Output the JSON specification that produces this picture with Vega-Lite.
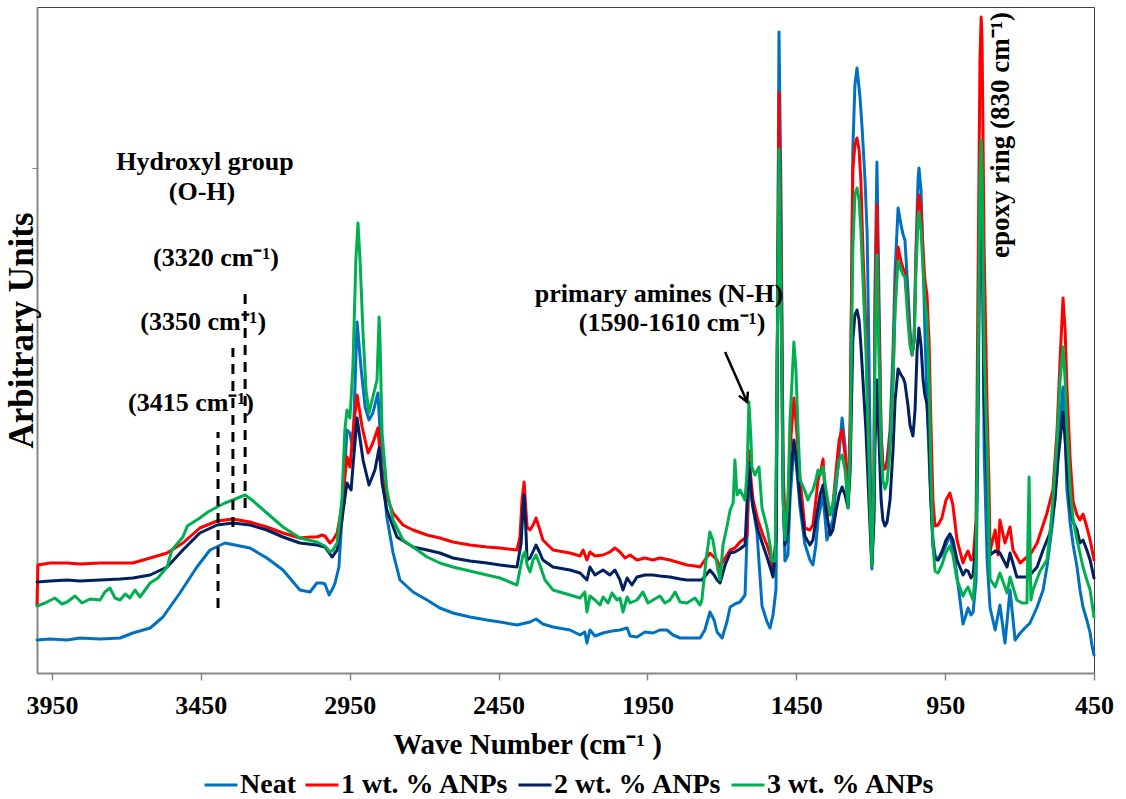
{
"$schema": "https://vega.github.io/schema/vega-lite/v6.json",
"width": 1057, "height": 666,
"autosize": {"type": "none"},
"padding": {"left": 37, "top": 7, "right": 32, "bottom": 126},
"background": "white",
"config": {"view": {"stroke": "#404040", "strokeWidth": 1}},
"datasets": {
"neat": [{"x":4000,"y":33},{"x":3956,"y":34},{"x":3899,"y":33},{"x":3856,"y":35},{"x":3788,"y":34},{"x":3721,"y":35},{"x":3678,"y":40},{"x":3620,"y":45},{"x":3577,"y":56},{"x":3520,"y":80},{"x":3463,"y":106},{"x":3419,"y":123},{"x":3369,"y":130},{"x":3335,"y":128},{"x":3285,"y":125},{"x":3228,"y":115},{"x":3174,"y":103},{"x":3117,"y":83},{"x":3083,"y":81},{"x":3060,"y":90},{"x":3043,"y":90},{"x":3033,"y":89},{"x":3019,"y":78},{"x":3006,"y":85},{"x":2999,"y":90},{"x":2986,"y":106},{"x":2972,"y":173},{"x":2959,"y":243},{"x":2949,"y":240},{"x":2939,"y":223},{"x":2925,"y":351},{"x":2912,"y":306},{"x":2898,"y":266},{"x":2885,"y":253},{"x":2872,"y":260},{"x":2855,"y":280},{"x":2841,"y":206},{"x":2825,"y":156},{"x":2804,"y":120},{"x":2781,"y":93},{"x":2737,"y":81},{"x":2690,"y":73},{"x":2647,"y":65},{"x":2603,"y":60},{"x":2546,"y":56},{"x":2489,"y":53},{"x":2445,"y":51},{"x":2388,"y":48},{"x":2344,"y":51},{"x":2324,"y":54},{"x":2301,"y":49},{"x":2267,"y":46},{"x":2210,"y":43},{"x":2176,"y":38},{"x":2160,"y":41},{"x":2153,"y":30},{"x":2143,"y":43},{"x":2126,"y":37},{"x":2099,"y":40},{"x":2069,"y":42},{"x":2042,"y":43},{"x":2018,"y":45},{"x":2008,"y":37},{"x":1985,"y":36},{"x":1958,"y":41},{"x":1931,"y":40},{"x":1908,"y":43},{"x":1884,"y":43},{"x":1864,"y":38},{"x":1840,"y":35},{"x":1807,"y":35},{"x":1773,"y":35},{"x":1757,"y":43},{"x":1740,"y":61},{"x":1726,"y":53},{"x":1716,"y":41},{"x":1699,"y":35},{"x":1683,"y":51},{"x":1672,"y":66},{"x":1656,"y":69},{"x":1639,"y":71},{"x":1622,"y":78},{"x":1609,"y":194},{"x":1599,"y":173},{"x":1582,"y":141},{"x":1565,"y":67},{"x":1548,"y":51},{"x":1538,"y":45},{"x":1528,"y":58},{"x":1518,"y":84},{"x":1515,"y":223},{"x":1508,"y":641},{"x":1501,"y":473},{"x":1494,"y":193},{"x":1488,"y":112},{"x":1478,"y":118},{"x":1471,"y":173},{"x":1458,"y":226},{"x":1451,"y":213},{"x":1437,"y":165},{"x":1421,"y":129},{"x":1404,"y":113},{"x":1394,"y":108},{"x":1384,"y":128},{"x":1377,"y":153},{"x":1360,"y":178},{"x":1347,"y":133},{"x":1327,"y":153},{"x":1310,"y":206},{"x":1296,"y":255},{"x":1286,"y":226},{"x":1276,"y":173},{"x":1269,"y":223},{"x":1260,"y":523},{"x":1253,"y":588},{"x":1246,"y":605},{"x":1236,"y":576},{"x":1229,"y":546},{"x":1219,"y":493},{"x":1212,"y":440},{"x":1206,"y":323},{"x":1199,"y":153},{"x":1196,"y":104},{"x":1189,"y":173},{"x":1186,"y":373},{"x":1179,"y":511},{"x":1172,"y":373},{"x":1165,"y":243},{"x":1159,"y":203},{"x":1152,"y":205},{"x":1145,"y":213},{"x":1135,"y":243},{"x":1125,"y":323},{"x":1118,"y":403},{"x":1108,"y":465},{"x":1098,"y":448},{"x":1091,"y":438},{"x":1085,"y":433},{"x":1075,"y":383},{"x":1068,"y":343},{"x":1061,"y":320},{"x":1054,"y":333},{"x":1048,"y":423},{"x":1041,"y":493},{"x":1038,"y":505},{"x":1031,"y":483},{"x":1024,"y":413},{"x":1018,"y":343},{"x":1011,"y":273},{"x":1001,"y":193},{"x":991,"y":133},{"x":984,"y":118},{"x":974,"y":113},{"x":961,"y":118},{"x":947,"y":128},{"x":934,"y":139},{"x":917,"y":113},{"x":900,"y":73},{"x":890,"y":49},{"x":880,"y":58},{"x":873,"y":65},{"x":863,"y":58},{"x":856,"y":61},{"x":846,"y":93},{"x":840,"y":223},{"x":833,"y":473},{"x":829,"y":523},{"x":826,"y":473},{"x":819,"y":223},{"x":809,"y":113},{"x":799,"y":65},{"x":782,"y":43},{"x":766,"y":68},{"x":749,"y":30},{"x":732,"y":83},{"x":715,"y":33},{"x":698,"y":40},{"x":682,"y":45},{"x":665,"y":50},{"x":641,"y":66},{"x":621,"y":83},{"x":608,"y":106},{"x":588,"y":153},{"x":574,"y":203},{"x":564,"y":253},{"x":554,"y":286},{"x":547,"y":243},{"x":541,"y":184},{"x":530,"y":150},{"x":520,"y":128},{"x":507,"y":106},{"x":497,"y":83},{"x":487,"y":66},{"x":474,"y":53},{"x":463,"y":40},{"x":457,"y":28},{"x":450,"y":18}],
"wt1": [{"x":4000,"y":68},{"x":3997,"y":108},{"x":3956,"y":110},{"x":3899,"y":110},{"x":3856,"y":109},{"x":3788,"y":110},{"x":3721,"y":110},{"x":3678,"y":110},{"x":3620,"y":115},{"x":3563,"y":120},{"x":3510,"y":130},{"x":3453,"y":145},{"x":3395,"y":152},{"x":3342,"y":154},{"x":3285,"y":151},{"x":3228,"y":146},{"x":3174,"y":140},{"x":3117,"y":135},{"x":3083,"y":136},{"x":3060,"y":136},{"x":3043,"y":138},{"x":3033,"y":137},{"x":3016,"y":130},{"x":3006,"y":133},{"x":2992,"y":140},{"x":2976,"y":166},{"x":2959,"y":216},{"x":2949,"y":206},{"x":2939,"y":240},{"x":2925,"y":278},{"x":2908,"y":246},{"x":2888,"y":220},{"x":2872,"y":230},{"x":2855,"y":245},{"x":2841,"y":196},{"x":2825,"y":176},{"x":2804,"y":160},{"x":2771,"y":148},{"x":2737,"y":143},{"x":2690,"y":138},{"x":2647,"y":135},{"x":2603,"y":131},{"x":2546,"y":128},{"x":2489,"y":126},{"x":2445,"y":125},{"x":2388,"y":123},{"x":2378,"y":136},{"x":2371,"y":173},{"x":2364,"y":191},{"x":2358,"y":163},{"x":2354,"y":146},{"x":2344,"y":143},{"x":2334,"y":148},{"x":2324,"y":155},{"x":2311,"y":143},{"x":2301,"y":133},{"x":2267,"y":123},{"x":2210,"y":120},{"x":2176,"y":117},{"x":2166,"y":123},{"x":2153,"y":113},{"x":2143,"y":121},{"x":2126,"y":117},{"x":2099,"y":118},{"x":2076,"y":121},{"x":2059,"y":125},{"x":2042,"y":121},{"x":2025,"y":115},{"x":2008,"y":118},{"x":1985,"y":113},{"x":1958,"y":115},{"x":1931,"y":113},{"x":1908,"y":115},{"x":1874,"y":113},{"x":1840,"y":110},{"x":1817,"y":108},{"x":1790,"y":107},{"x":1773,"y":106},{"x":1757,"y":113},{"x":1740,"y":120},{"x":1730,"y":117},{"x":1716,"y":113},{"x":1706,"y":106},{"x":1689,"y":115},{"x":1672,"y":123},{"x":1656,"y":125},{"x":1639,"y":131},{"x":1622,"y":135},{"x":1615,"y":137},{"x":1609,"y":222},{"x":1602,"y":193},{"x":1595,"y":173},{"x":1579,"y":153},{"x":1562,"y":138},{"x":1548,"y":128},{"x":1538,"y":118},{"x":1528,"y":104},{"x":1518,"y":133},{"x":1515,"y":273},{"x":1508,"y":580},{"x":1501,"y":423},{"x":1494,"y":203},{"x":1488,"y":153},{"x":1478,"y":168},{"x":1471,"y":223},{"x":1458,"y":275},{"x":1451,"y":253},{"x":1437,"y":193},{"x":1421,"y":145},{"x":1404,"y":143},{"x":1394,"y":148},{"x":1384,"y":173},{"x":1377,"y":193},{"x":1367,"y":203},{"x":1360,"y":214},{"x":1354,"y":183},{"x":1343,"y":158},{"x":1327,"y":168},{"x":1316,"y":203},{"x":1306,"y":233},{"x":1296,"y":243},{"x":1286,"y":218},{"x":1276,"y":177},{"x":1269,"y":253},{"x":1260,"y":503},{"x":1253,"y":528},{"x":1246,"y":535},{"x":1239,"y":523},{"x":1233,"y":493},{"x":1226,"y":423},{"x":1216,"y":343},{"x":1206,"y":223},{"x":1199,"y":133},{"x":1196,"y":113},{"x":1189,"y":193},{"x":1186,"y":343},{"x":1179,"y":468},{"x":1172,"y":343},{"x":1165,"y":233},{"x":1159,"y":208},{"x":1152,"y":204},{"x":1145,"y":208},{"x":1135,"y":233},{"x":1125,"y":293},{"x":1118,"y":373},{"x":1108,"y":426},{"x":1098,"y":411},{"x":1091,"y":405},{"x":1085,"y":401},{"x":1075,"y":363},{"x":1068,"y":333},{"x":1061,"y":318},{"x":1054,"y":333},{"x":1048,"y":413},{"x":1041,"y":468},{"x":1038,"y":478},{"x":1031,"y":463},{"x":1024,"y":423},{"x":1018,"y":393},{"x":1011,"y":378},{"x":1004,"y":333},{"x":998,"y":253},{"x":991,"y":173},{"x":984,"y":147},{"x":974,"y":148},{"x":961,"y":155},{"x":947,"y":173},{"x":934,"y":180},{"x":924,"y":168},{"x":910,"y":133},{"x":890,"y":110},{"x":880,"y":118},{"x":873,"y":122},{"x":863,"y":113},{"x":856,"y":114},{"x":846,"y":153},{"x":840,"y":373},{"x":833,"y":613},{"x":829,"y":656},{"x":826,"y":633},{"x":819,"y":423},{"x":809,"y":265},{"x":803,"y":193},{"x":799,"y":122},{"x":782,"y":143},{"x":772,"y":118},{"x":766,"y":153},{"x":749,"y":130},{"x":732,"y":146},{"x":722,"y":123},{"x":698,"y":110},{"x":675,"y":116},{"x":665,"y":118},{"x":641,"y":130},{"x":621,"y":148},{"x":608,"y":160},{"x":588,"y":183},{"x":574,"y":243},{"x":564,"y":313},{"x":554,"y":375},{"x":547,"y":343},{"x":541,"y":286},{"x":530,"y":213},{"x":520,"y":171},{"x":507,"y":158},{"x":497,"y":153},{"x":487,"y":159},{"x":474,"y":146},{"x":463,"y":133},{"x":450,"y":113}],
"wt2": [{"x":4000,"y":91},{"x":3956,"y":92},{"x":3899,"y":93},{"x":3856,"y":92},{"x":3788,"y":93},{"x":3721,"y":94},{"x":3678,"y":95},{"x":3620,"y":98},{"x":3563,"y":106},{"x":3510,"y":123},{"x":3453,"y":140},{"x":3395,"y":148},{"x":3342,"y":150},{"x":3285,"y":148},{"x":3228,"y":143},{"x":3174,"y":136},{"x":3117,"y":130},{"x":3060,"y":128},{"x":3033,"y":126},{"x":3009,"y":116},{"x":2992,"y":123},{"x":2976,"y":153},{"x":2959,"y":190},{"x":2945,"y":183},{"x":2939,"y":206},{"x":2925,"y":255},{"x":2905,"y":213},{"x":2885,"y":188},{"x":2865,"y":203},{"x":2851,"y":225},{"x":2841,"y":190},{"x":2825,"y":163},{"x":2791,"y":136},{"x":2737,"y":126},{"x":2690,"y":123},{"x":2647,"y":120},{"x":2603,"y":115},{"x":2546,"y":112},{"x":2489,"y":110},{"x":2445,"y":108},{"x":2388,"y":106},{"x":2374,"y":130},{"x":2368,"y":163},{"x":2364,"y":178},{"x":2358,"y":143},{"x":2354,"y":113},{"x":2344,"y":115},{"x":2324,"y":128},{"x":2311,"y":120},{"x":2301,"y":113},{"x":2267,"y":106},{"x":2210,"y":103},{"x":2176,"y":100},{"x":2153,"y":93},{"x":2143,"y":106},{"x":2126,"y":98},{"x":2099,"y":103},{"x":2076,"y":98},{"x":2059,"y":103},{"x":2042,"y":93},{"x":2032,"y":83},{"x":2018,"y":95},{"x":2002,"y":88},{"x":1985,"y":96},{"x":1958,"y":98},{"x":1931,"y":98},{"x":1908,"y":97},{"x":1874,"y":96},{"x":1840,"y":94},{"x":1817,"y":93},{"x":1790,"y":93},{"x":1767,"y":93},{"x":1753,"y":98},{"x":1740,"y":103},{"x":1726,"y":98},{"x":1716,"y":93},{"x":1706,"y":90},{"x":1689,"y":108},{"x":1672,"y":120},{"x":1656,"y":121},{"x":1639,"y":124},{"x":1622,"y":128},{"x":1609,"y":210},{"x":1602,"y":183},{"x":1595,"y":165},{"x":1579,"y":143},{"x":1562,"y":128},{"x":1545,"y":113},{"x":1528,"y":96},{"x":1518,"y":133},{"x":1515,"y":273},{"x":1508,"y":513},{"x":1501,"y":373},{"x":1494,"y":173},{"x":1488,"y":128},{"x":1478,"y":143},{"x":1471,"y":193},{"x":1458,"y":233},{"x":1451,"y":218},{"x":1437,"y":173},{"x":1421,"y":137},{"x":1404,"y":128},{"x":1394,"y":133},{"x":1384,"y":153},{"x":1370,"y":178},{"x":1360,"y":188},{"x":1350,"y":163},{"x":1336,"y":138},{"x":1327,"y":143},{"x":1316,"y":163},{"x":1306,"y":178},{"x":1296,"y":186},{"x":1286,"y":178},{"x":1276,"y":165},{"x":1269,"y":203},{"x":1260,"y":333},{"x":1253,"y":358},{"x":1246,"y":363},{"x":1239,"y":353},{"x":1233,"y":328},{"x":1226,"y":293},{"x":1216,"y":243},{"x":1206,"y":173},{"x":1199,"y":123},{"x":1196,"y":108},{"x":1189,"y":153},{"x":1186,"y":223},{"x":1179,"y":293},{"x":1172,"y":233},{"x":1165,"y":173},{"x":1159,"y":153},{"x":1152,"y":147},{"x":1145,"y":151},{"x":1135,"y":173},{"x":1125,"y":223},{"x":1118,"y":273},{"x":1108,"y":304},{"x":1098,"y":298},{"x":1091,"y":295},{"x":1085,"y":290},{"x":1075,"y":268},{"x":1068,"y":248},{"x":1058,"y":237},{"x":1051,"y":263},{"x":1044,"y":323},{"x":1038,"y":345},{"x":1031,"y":328},{"x":1024,"y":293},{"x":1018,"y":278},{"x":1011,"y":269},{"x":1004,"y":233},{"x":998,"y":173},{"x":991,"y":128},{"x":984,"y":114},{"x":974,"y":113},{"x":961,"y":121},{"x":947,"y":133},{"x":934,"y":139},{"x":924,"y":133},{"x":910,"y":113},{"x":890,"y":98},{"x":880,"y":103},{"x":873,"y":102},{"x":863,"y":95},{"x":856,"y":98},{"x":846,"y":133},{"x":840,"y":273},{"x":833,"y":473},{"x":829,"y":503},{"x":826,"y":473},{"x":819,"y":273},{"x":809,"y":192},{"x":799,"y":118},{"x":782,"y":122},{"x":766,"y":120},{"x":742,"y":106},{"x":732,"y":120},{"x":709,"y":96},{"x":675,"y":96},{"x":665,"y":98},{"x":641,"y":106},{"x":621,"y":123},{"x":598,"y":140},{"x":581,"y":173},{"x":571,"y":213},{"x":564,"y":233},{"x":554,"y":261},{"x":547,"y":233},{"x":541,"y":204},{"x":530,"y":168},{"x":520,"y":151},{"x":507,"y":143},{"x":497,"y":130},{"x":487,"y":133},{"x":474,"y":123},{"x":463,"y":113},{"x":450,"y":95}],
"wt3": [{"x":4000,"y":67},{"x":3973,"y":70},{"x":3940,"y":75},{"x":3916,"y":69},{"x":3899,"y":71},{"x":3872,"y":77},{"x":3849,"y":70},{"x":3822,"y":74},{"x":3788,"y":73},{"x":3772,"y":81},{"x":3755,"y":85},{"x":3738,"y":75},{"x":3721,"y":73},{"x":3704,"y":79},{"x":3688,"y":75},{"x":3671,"y":83},{"x":3654,"y":76},{"x":3637,"y":83},{"x":3620,"y":90},{"x":3594,"y":95},{"x":3563,"y":106},{"x":3547,"y":123},{"x":3510,"y":136},{"x":3495,"y":147},{"x":3453,"y":155},{"x":3426,"y":161},{"x":3395,"y":166},{"x":3369,"y":170},{"x":3342,"y":173},{"x":3318,"y":176},{"x":3301,"y":178},{"x":3278,"y":173},{"x":3251,"y":166},{"x":3228,"y":160},{"x":3174,"y":146},{"x":3117,"y":135},{"x":3060,"y":131},{"x":3033,"y":127},{"x":3016,"y":121},{"x":3006,"y":123},{"x":2992,"y":130},{"x":2976,"y":173},{"x":2966,"y":243},{"x":2959,"y":263},{"x":2949,"y":255},{"x":2939,"y":306},{"x":2929,"y":413},{"x":2922,"y":450},{"x":2915,"y":413},{"x":2905,"y":340},{"x":2895,"y":283},{"x":2885,"y":260},{"x":2872,"y":276},{"x":2858,"y":293},{"x":2851,"y":356},{"x":2848,"y":333},{"x":2841,"y":240},{"x":2825,"y":183},{"x":2804,"y":153},{"x":2771,"y":133},{"x":2737,"y":126},{"x":2690,"y":116},{"x":2647,"y":110},{"x":2603,"y":106},{"x":2546,"y":102},{"x":2489,"y":98},{"x":2445,"y":95},{"x":2388,"y":88},{"x":2378,"y":103},{"x":2368,"y":118},{"x":2361,"y":121},{"x":2354,"y":108},{"x":2344,"y":101},{"x":2334,"y":113},{"x":2324,"y":118},{"x":2311,"y":108},{"x":2294,"y":93},{"x":2267,"y":83},{"x":2210,"y":78},{"x":2176,"y":75},{"x":2160,"y":81},{"x":2153,"y":61},{"x":2143,"y":77},{"x":2126,"y":73},{"x":2109,"y":68},{"x":2099,"y":76},{"x":2082,"y":70},{"x":2069,"y":80},{"x":2052,"y":73},{"x":2042,"y":75},{"x":2032,"y":61},{"x":2018,"y":76},{"x":2008,"y":70},{"x":1985,"y":73},{"x":1965,"y":81},{"x":1948,"y":70},{"x":1931,"y":73},{"x":1908,"y":77},{"x":1891,"y":70},{"x":1874,"y":73},{"x":1857,"y":81},{"x":1840,"y":71},{"x":1817,"y":70},{"x":1790,"y":75},{"x":1773,"y":68},{"x":1767,"y":73},{"x":1753,"y":113},{"x":1740,"y":141},{"x":1730,"y":133},{"x":1723,"y":120},{"x":1713,"y":103},{"x":1706,"y":93},{"x":1696,"y":128},{"x":1683,"y":146},{"x":1672,"y":163},{"x":1662,"y":170},{"x":1656,"y":213},{"x":1649,"y":178},{"x":1639,"y":183},{"x":1622,"y":173},{"x":1615,"y":203},{"x":1609,"y":271},{"x":1602,"y":233},{"x":1599,"y":206},{"x":1589,"y":198},{"x":1582,"y":202},{"x":1575,"y":206},{"x":1565,"y":165},{"x":1548,"y":145},{"x":1538,"y":128},{"x":1531,"y":112},{"x":1521,"y":112},{"x":1515,"y":273},{"x":1508,"y":524},{"x":1501,"y":373},{"x":1494,"y":173},{"x":1488,"y":133},{"x":1478,"y":173},{"x":1471,"y":253},{"x":1464,"y":293},{"x":1458,"y":331},{"x":1451,"y":303},{"x":1444,"y":243},{"x":1437,"y":193},{"x":1421,"y":182},{"x":1411,"y":173},{"x":1404,"y":178},{"x":1394,"y":183},{"x":1384,"y":193},{"x":1377,"y":203},{"x":1370,"y":198},{"x":1360,"y":206},{"x":1350,"y":183},{"x":1336,"y":158},{"x":1327,"y":168},{"x":1316,"y":193},{"x":1306,"y":213},{"x":1296,"y":218},{"x":1286,"y":203},{"x":1276,"y":165},{"x":1269,"y":223},{"x":1260,"y":423},{"x":1253,"y":478},{"x":1246,"y":485},{"x":1239,"y":473},{"x":1233,"y":443},{"x":1226,"y":393},{"x":1216,"y":323},{"x":1206,"y":213},{"x":1199,"y":133},{"x":1196,"y":108},{"x":1189,"y":193},{"x":1186,"y":313},{"x":1179,"y":418},{"x":1172,"y":313},{"x":1165,"y":223},{"x":1159,"y":193},{"x":1152,"y":184},{"x":1145,"y":191},{"x":1135,"y":223},{"x":1125,"y":293},{"x":1118,"y":363},{"x":1108,"y":412},{"x":1098,"y":403},{"x":1091,"y":398},{"x":1085,"y":396},{"x":1075,"y":353},{"x":1068,"y":328},{"x":1061,"y":318},{"x":1054,"y":333},{"x":1048,"y":403},{"x":1041,"y":453},{"x":1038,"y":461},{"x":1031,"y":443},{"x":1024,"y":403},{"x":1018,"y":373},{"x":1011,"y":355},{"x":1004,"y":293},{"x":998,"y":203},{"x":991,"y":128},{"x":984,"y":102},{"x":974,"y":100},{"x":961,"y":108},{"x":947,"y":121},{"x":934,"y":127},{"x":924,"y":118},{"x":910,"y":93},{"x":890,"y":77},{"x":880,"y":83},{"x":873,"y":86},{"x":863,"y":78},{"x":856,"y":73},{"x":846,"y":113},{"x":840,"y":293},{"x":833,"y":493},{"x":829,"y":533},{"x":826,"y":503},{"x":819,"y":323},{"x":809,"y":224},{"x":799,"y":94},{"x":782,"y":86},{"x":766,"y":100},{"x":742,"y":80},{"x":732,"y":96},{"x":709,"y":73},{"x":692,"y":70},{"x":675,"y":70},{"x":672,"y":133},{"x":668,"y":196},{"x":665,"y":133},{"x":662,"y":73},{"x":655,"y":83},{"x":631,"y":102},{"x":608,"y":113},{"x":598,"y":138},{"x":588,"y":173},{"x":574,"y":233},{"x":564,"y":293},{"x":554,"y":326},{"x":547,"y":293},{"x":541,"y":245},{"x":530,"y":183},{"x":520,"y":153},{"x":507,"y":133},{"x":487,"y":106},{"x":474,"y":93},{"x":463,"y":83},{"x":450,"y":56}],
"notes": [{"x":3436,"y":511,"t":"Hydroxyl group"},{"x":3446,"y":481,"t":"(O-H)"},{"x":3399,"y":415,"t":"(3320 cm⁻¹)"},{"x":3442,"y":351,"t":"(3350 cm⁻¹)"},{"x":3483,"y":270,"t":"(3415 cm⁻¹)"},{"x":1911,"y":379,"t":"primary amines (N-H)"},{"x":1867,"y":350,"t":"(1590-1610 cm⁻¹)"}],
"epoxy": [{"x":762,"y":538,"t":"epoxy ring  (830 cm⁻¹)"}],
"dash": [{"x":3392,"y":65,"y2":241},{"x":3342,"y":146,"y2":325},{"x":3301,"y":165,"y2":385}],
"arrow": [{"x":1689,"y":321,"x2":1615,"y2":271}],
"arrowhead": [{"x":1615,"y":271}]
},
"encoding": {
"x": {"field": "x", "type": "quantitative",
 "scale": {"domain": [450, 4000], "reverse": true, "nice": false, "zero": false},
 "axis": {"values": [3950, 3450, 2950, 2450, 1950, 1450, 950, 450], "format": "d", "grid": false, "labelFlush": false, "labelBound": false,
  "labelFont": "Liberation Serif", "labelFontSize": 26, "labelFontWeight": "bold", "labelColor": "#000", "labelPadding": 12,
  "tickSize": 7, "tickColor": "#868686", "tickWidth": 1.5, "domainColor": "#868686", "domainWidth": 2,
  "title": "Wave Number (cm⁻¹ )", "titleFont": "Liberation Serif", "titleFontSize": 29, "titleFontWeight": "bold", "titleColor": "#000",
  "titleX": 490, "titleY": 80, "titleAlign": "center", "titleBaseline": "alphabetic"}},
"y": {"field": "y", "type": "quantitative",
 "scale": {"domain": [0, 666], "nice": false, "zero": false},
 "axis": {"values": [505], "labels": false, "grid": false, "tickSize": 5, "tickColor": "#868686", "domainColor": "#868686", "domainWidth": 2,
  "title": "Arbitrary Units", "titleFont": "Liberation Serif", "titleFontSize": 35, "titleFontWeight": "bold", "titleColor": "#000",
  "titleAngle": 270, "titleX": -5, "titleY": 323, "titleAlign": "center", "titleBaseline": "alphabetic"}}
},
"layer": [
{"data": {"name": "neat"}, "mark": {"type": "line", "strokeWidth": 3, "strokeJoin": "round", "strokeCap": "round"},
 "encoding": {"color": {"datum": "Neat", "type": "nominal",
  "scale": {"domain": ["Neat", "1 wt. % ANPs", "2 wt. % ANPs", "3 wt. % ANPs"], "range": ["#0070C0", "#FF0000", "#002060", "#00B050"]},
  "legend": {"orient": "none", "legendX": 166, "legendY": 760, "direction": "horizontal", "title": null,
   "symbolType": "stroke", "symbolSize": 1089, "symbolStrokeWidth": 3,
   "labelFont": "Liberation Serif", "labelFontSize": 28, "labelFontWeight": "bold", "labelColor": "#000", "labelLimit": 400,
   "labelOffset": 1, "columnPadding": 3, "padding": 0}}}},
{"data": {"name": "wt1"}, "mark": {"type": "line", "strokeWidth": 3, "strokeJoin": "round", "strokeCap": "round"},
 "encoding": {"color": {"datum": "1 wt. % ANPs", "type": "nominal"}}},
{"data": {"name": "wt2"}, "mark": {"type": "line", "strokeWidth": 3, "strokeJoin": "round", "strokeCap": "round"},
 "encoding": {"color": {"datum": "2 wt. % ANPs", "type": "nominal"}}},
{"data": {"name": "wt3"}, "mark": {"type": "line", "strokeWidth": 3, "strokeJoin": "round", "strokeCap": "round"},
 "encoding": {"color": {"datum": "3 wt. % ANPs", "type": "nominal"}}},
{"data": {"name": "dash"}, "mark": {"type": "rule", "strokeDash": [10, 7], "strokeWidth": 3, "color": "#000"},
 "encoding": {"y2": {"field": "y2"}}},
{"data": {"name": "arrow"}, "mark": {"type": "rule", "strokeWidth": 2.5, "color": "#000"},
 "encoding": {"x2": {"field": "x2"}, "y2": {"field": "y2"}}},
{"data": {"name": "arrowhead"}, "mark": {"type": "point", "shape": "M-0.7,-1.3L0,0L0.7,-1.3", "size": 200, "filled": false, "stroke": "#000", "strokeWidth": 2.5, "angle": 336, "opacity": 1}},
{"data": {"name": "notes"}, "mark": {"type": "text", "font": "Liberation Serif", "fontWeight": "bold", "fontSize": 26, "color": "#000", "align": "center", "baseline": "middle"},
 "encoding": {"text": {"field": "t"}}},
{"data": {"name": "epoxy"}, "mark": {"type": "text", "font": "Liberation Serif", "fontWeight": "bold", "fontSize": 27, "color": "#000", "align": "center", "baseline": "middle", "angle": 270},
 "encoding": {"text": {"field": "t"}}}
]
}
